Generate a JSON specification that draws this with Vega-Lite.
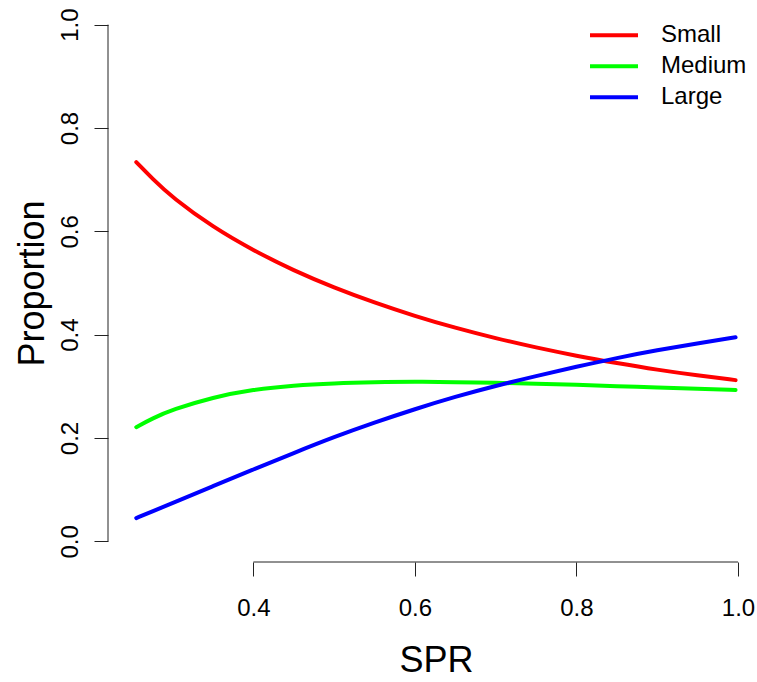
{
  "$schema": "https://vega.github.io/schema/vega-lite/v6.json",
  "width": 630,
  "height": 558,
  "autosize": {"type": "none"},
  "padding": {"left": 108, "top": 4, "right": 19, "bottom": 120},
  "background": "white",
  "config": {"view": {"stroke": null}, "font": "Liberation Sans"},
  "layer": [
    {
      "data": {"values": [
        {"SPR": 0.255, "Size": "Small", "Proportion": 0.734},
        {"SPR": 0.275, "Size": "Small", "Proportion": 0.702},
        {"SPR": 0.30, "Size": "Small", "Proportion": 0.665},
        {"SPR": 0.35, "Size": "Small", "Proportion": 0.608},
        {"SPR": 0.40, "Size": "Small", "Proportion": 0.563},
        {"SPR": 0.45, "Size": "Small", "Proportion": 0.524},
        {"SPR": 0.50, "Size": "Small", "Proportion": 0.491},
        {"SPR": 0.55, "Size": "Small", "Proportion": 0.462},
        {"SPR": 0.60, "Size": "Small", "Proportion": 0.436},
        {"SPR": 0.65, "Size": "Small", "Proportion": 0.413},
        {"SPR": 0.70, "Size": "Small", "Proportion": 0.393},
        {"SPR": 0.75, "Size": "Small", "Proportion": 0.375},
        {"SPR": 0.80, "Size": "Small", "Proportion": 0.359},
        {"SPR": 0.85, "Size": "Small", "Proportion": 0.345},
        {"SPR": 0.90, "Size": "Small", "Proportion": 0.332},
        {"SPR": 0.95, "Size": "Small", "Proportion": 0.321},
        {"SPR": 0.997, "Size": "Small", "Proportion": 0.312},
        {"SPR": 0.255, "Size": "Medium", "Proportion": 0.221},
        {"SPR": 0.275, "Size": "Medium", "Proportion": 0.238},
        {"SPR": 0.30, "Size": "Medium", "Proportion": 0.255},
        {"SPR": 0.35, "Size": "Medium", "Proportion": 0.279},
        {"SPR": 0.40, "Size": "Medium", "Proportion": 0.294},
        {"SPR": 0.45, "Size": "Medium", "Proportion": 0.302},
        {"SPR": 0.50, "Size": "Medium", "Proportion": 0.306},
        {"SPR": 0.55, "Size": "Medium", "Proportion": 0.308},
        {"SPR": 0.60, "Size": "Medium", "Proportion": 0.309},
        {"SPR": 0.65, "Size": "Medium", "Proportion": 0.308},
        {"SPR": 0.70, "Size": "Medium", "Proportion": 0.307},
        {"SPR": 0.75, "Size": "Medium", "Proportion": 0.305},
        {"SPR": 0.80, "Size": "Medium", "Proportion": 0.303},
        {"SPR": 0.85, "Size": "Medium", "Proportion": 0.300},
        {"SPR": 0.90, "Size": "Medium", "Proportion": 0.298},
        {"SPR": 0.95, "Size": "Medium", "Proportion": 0.295},
        {"SPR": 0.997, "Size": "Medium", "Proportion": 0.293},
        {"SPR": 0.255, "Size": "Large", "Proportion": 0.045},
        {"SPR": 0.275, "Size": "Large", "Proportion": 0.058},
        {"SPR": 0.30, "Size": "Large", "Proportion": 0.074},
        {"SPR": 0.35, "Size": "Large", "Proportion": 0.107},
        {"SPR": 0.40, "Size": "Large", "Proportion": 0.139},
        {"SPR": 0.45, "Size": "Large", "Proportion": 0.171},
        {"SPR": 0.50, "Size": "Large", "Proportion": 0.202},
        {"SPR": 0.55, "Size": "Large", "Proportion": 0.230},
        {"SPR": 0.60, "Size": "Large", "Proportion": 0.256},
        {"SPR": 0.65, "Size": "Large", "Proportion": 0.280},
        {"SPR": 0.70, "Size": "Large", "Proportion": 0.301},
        {"SPR": 0.75, "Size": "Large", "Proportion": 0.320},
        {"SPR": 0.80, "Size": "Large", "Proportion": 0.338},
        {"SPR": 0.85, "Size": "Large", "Proportion": 0.355},
        {"SPR": 0.90, "Size": "Large", "Proportion": 0.370},
        {"SPR": 0.95, "Size": "Large", "Proportion": 0.383},
        {"SPR": 0.997, "Size": "Large", "Proportion": 0.395}
      ]},
      "mark": {"type": "line", "strokeWidth": 4, "strokeCap": "round", "strokeJoin": "round", "interpolate": "basis"},
      "encoding": {
        "x": {
          "field": "SPR", "type": "quantitative",
          "scale": {"domain": [0.22, 1.0], "nice": false, "zero": false},
          "axis": {
            "values": [0.4, 0.6, 0.8, 1.0], "format": ".1f",
            "domain": false, "grid": false,
            "tickSize": 14, "tickColor": "#222222", "tickWidth": 1,
            "labelFontSize": 24, "labelFont": "Liberation Sans", "labelColor": "black",
            "labelPadding": 20, "labelFlush": false, "labelOverlap": false,
            "title": "SPR", "titleFontSize": 36, "titleFontWeight": "normal",
            "titleFont": "Liberation Sans", "titleColor": "black",
            "titleX": 328, "titleY": 109, "titleAlign": "center", "titleBaseline": "alphabetic"
          }
        },
        "y": {
          "field": "Proportion", "type": "quantitative",
          "scale": {"domain": [-0.04, 1.04], "nice": false, "zero": false},
          "axis": {
            "values": [0, 0.2, 0.4, 0.6, 0.8, 1.0], "format": ".1f",
            "domain": false, "grid": false,
            "tickSize": 14, "tickColor": "#222222", "tickWidth": 1,
            "labelFontSize": 24, "labelFont": "Liberation Sans", "labelColor": "black",
            "labelAngle": -90, "labelAlign": "center", "labelBaseline": "alphabetic",
            "labelPadding": 17, "labelFlush": false, "labelOverlap": false,
            "title": "Proportion", "titleFontSize": 36, "titleFontWeight": "normal",
            "titleFont": "Liberation Sans", "titleColor": "black",
            "titleAngle": 270, "titleX": -65, "titleY": 279, "titleAlign": "center", "titleBaseline": "alphabetic"
          }
        },
        "color": {
          "field": "Size", "type": "nominal",
          "scale": {"domain": ["Small", "Medium", "Large"], "range": ["#FF0000", "#00FF00", "#0000FF"]},
          "legend": {
            "orient": "none", "legendX": 480, "legendY": 16, "title": null,
            "symbolType": "stroke", "symbolSize": 2304, "symbolStrokeWidth": 4,
            "labelFontSize": 24, "labelFont": "Liberation Sans", "labelColor": "black",
            "labelOffset": 21, "rowPadding": 0, "padding": 0, "clipHeight": 30.5
          }
        }
      }
    },
    {
      "data": {"values": [{}]},
      "mark": {"type": "rule", "color": "#222222", "strokeWidth": 1},
      "encoding": {
        "x": {"datum": 0.22, "type": "quantitative"},
        "y": {"datum": 0, "type": "quantitative"},
        "y2": {"datum": 1}
      }
    },
    {
      "data": {"values": [{}]},
      "mark": {"type": "rule", "color": "#222222", "strokeWidth": 1},
      "encoding": {
        "y": {"datum": -0.04, "type": "quantitative"},
        "x": {"datum": 0.4, "type": "quantitative"},
        "x2": {"datum": 1.0}
      }
    }
  ]
}
